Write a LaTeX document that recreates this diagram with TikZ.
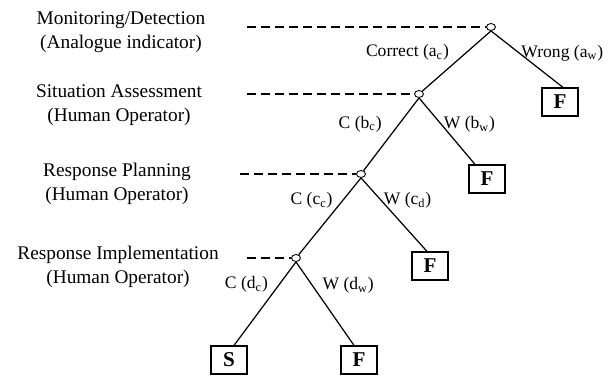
\documentclass[tikz,border=0pt]{standalone}
\usepackage{fontspec}
\setmainfont{Liberation Serif}
\usetikzlibrary{shapes.geometric}

\begin{document}
\begin{tikzpicture}[x=0.02cm,y=-0.02cm]
\tikzset{chance/.style = {shape=ellipse,draw,line width=0.5pt,inner sep=0pt,minimum width=0.18cm,minimum height=0.14cm}}
\tikzset{outcome/.style = {shape=rectangle,draw,line width=0.7pt,minimum width=0.72cm,minimum height=0.56cm,inner sep=0pt,font=\fontsize{12}{14}\selectfont\bfseries}}
\tikzset{stage/.style = {align=center,font=\fontsize{11}{14}\selectfont}}
\tikzset{branch/.style = {inner sep=1pt,font=\fontsize{10}{12}\selectfont}}
\tikzset{edge/.style = {line width=0.7pt}}
\tikzset{level/.style = {line width=1.5pt,dash pattern=on 0.18cm off 0.1cm}}
\useasboundingbox (0,0) rectangle (608,376);
% stages
\node[stage] (mon) at (121,32)  {Monitoring/Detection\\(Analogue indicator)};
\node[stage] (sit) at (119,105) {Situation Assessment\\(Human Operator)};
\node[stage] (pla) at (117,184) {Response Planning\\(Human Operator)};
\node[stage] (imp) at (118,267) {Response Implementation\\(Human Operator)};
% vertices
\node[chance] (a) at (491,27)  {};
\node[chance] (b) at (419,94)  {};
\node[chance] (c) at (361,174) {};
\node[chance] (d) at (296,258) {};
\node[outcome] (f1) at (560,102) {F};
\node[outcome] (f2) at (487,179) {F};
\node[outcome] (f3) at (430,266) {F};
\node[outcome] (s)  at (229,360) {S};
\node[outcome] (f4) at (359,360) {F};
% levels
\coordinate (la) at (247,27);
\coordinate (lb) at (247,94);
\coordinate (lc) at (240,174);
\coordinate (ld) at (247,258);
\draw[level] (la) -- (a.west);
\draw[level] (lb) -- (b.west);
\draw[level] (lc) -- (c.west);
\draw[level] (ld) -- (d.west);
%edges
\draw[edge] (a.south) -- node[branch, pos=0.36, left=0.3cm] {Correct (a\textsubscript{c})} (b);
\draw[edge] (a.south) -- node[branch, pos=0.39, right] {Wrong (a\textsubscript{w})} ([xshift=0.06cm]f1.north);
\draw[edge] (b.south) -- node[branch, pos=0.36, left=0.3cm] {C (b\textsubscript{c})} (c);
\draw[edge] (b.south) -- node[branch, pos=0.40, right] {W (b\textsubscript{w})} ([xshift=-0.24cm]f2.north);
\draw[edge] (c.south) -- node[branch, pos=0.29, left=0.16cm] {C (c\textsubscript{c})} (d);
\draw[edge] (c.south) -- node[branch, pos=0.31, right] {W (c\textsubscript{d})} ([xshift=-0.06cm]f3.north);
\draw[edge] (d.south) -- node[branch, pos=0.27, left=0.18cm] {C (d\textsubscript{c})} ([xshift=0.1cm]s.north);
\draw[edge] (d.south) -- node[branch, pos=0.28, right=0.16cm] {W (d\textsubscript{w})} ([xshift=-0.1cm]f4.north);
\end{tikzpicture}
\end{document}
